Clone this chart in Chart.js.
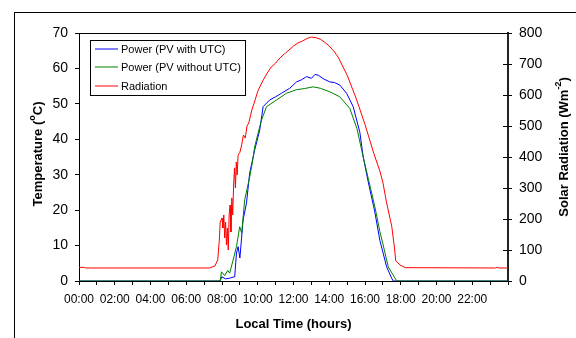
<!DOCTYPE html>
<html>
<head>
<meta charset="utf-8">
<script src="https://cdn.jsdelivr.net/npm/chart.js@4"></script>
<style>
  html, body { margin: 0; padding: 0; background: #fff; }
  canvas { display: block; }
</style>
</head>
<body>
<canvas id="grafico" width="576" height="338"></canvas>
<script>
// Radiation (W/m2, right axis)
const radHours = [0, 0.3, 0.35, 7.3, 7.6, 7.76, 7.85, 7.9, 8.0, 8.05, 8.1, 8.15, 8.2, 8.25, 8.3, 8.35,
  8.4, 8.45, 8.5, 8.55, 8.6, 8.65, 8.7, 8.75, 8.8, 8.85, 8.9, 9.0, 9.1, 9.2, 9.3, 9.4, 9.5, 9.6,
  9.7, 9.8, 10.0, 10.25, 10.5, 10.75, 11.0, 11.25, 11.5, 11.75, 12.0, 12.25, 12.5, 12.75, 13.0,
  13.3, 13.5, 13.75, 14.0, 14.25, 14.5, 15.0, 15.5, 16.0, 16.5, 16.83, 17.0, 17.2, 17.5, 17.65,
  17.72, 17.95, 18.25, 23.3, 23.4, 23.5, 24];
const radValues = [44, 44, 42, 42, 48, 68, 132, 190, 203, 171, 213, 139, 190, 116, 171, 100,
  213, 245, 158, 268, 213, 310, 365, 300, 384, 342, 406, 415, 439, 471, 461, 500, 510, 535,
  558, 574, 612, 642, 668, 690, 703, 720, 733, 745, 758, 768, 774, 782, 787,
  784, 780, 770, 758, 742, 722, 664, 590, 505, 410, 355, 318, 255, 175, 106,
  65, 52, 43, 42, 44, 42, 42];

// Power, PV with UTC (left axis)
const withHours = [0, 7.9, 7.98, 8.2, 8.43, 8.71, 8.81, 8.9, 9.0, 9.18, 9.37, 9.55, 9.83, 10.11,
  10.3, 10.67, 11.0, 11.33, 11.79, 12.17, 12.45, 12.73, 13.0, 13.2, 13.38, 13.7, 14.03, 14.3,
  14.59, 14.97, 15.34, 15.71, 15.9, 16.18, 16.55, 16.83, 17.21, 17.49, 17.58, 24];
const withValues = [0, 0, 1.2, 0.6, 0.8, 1.2, 7.9, 9.7, 6.5, 17.2, 22, 30.5, 37, 42.6,
  49.2, 51.1, 52.0, 53, 54.4, 56.2, 56.8, 57.7, 57.2, 58.3, 58.1, 57.0, 56.2, 56.0,
  55.3, 53, 49.2, 42, 35, 28, 19.5, 11.5, 4, 0.8, 0, 0];

// Power, PV without UTC (left axis)
const withoutHours = [0, 7.9, 7.97, 8.15, 8.32, 8.43, 8.62, 8.81, 8.99, 9.1, 9.27, 9.55, 9.7,
  9.83, 10.02, 10.21, 10.49, 11.05, 11.61, 12.17, 12.6, 13.1, 13.5, 14.03, 14.59, 15.15,
  15.55, 15.9, 16.18, 16.55, 16.83, 17.0, 17.3, 17.68, 17.77, 24];
const withoutValues = [0, 0, 2.6, 1.5, 3, 2.2, 5.9, 9.7, 15.3, 13.5, 22.9, 29.4, 33.5,
  37.9, 41.8, 45.4, 49.2, 51.1, 53, 54, 54.3, 54.8, 54.4, 53.4, 52, 48.7,
  43, 35, 29, 21, 14, 10.5, 4, 0.8, 0, 0];

const xTickStep = 1;
const leftTitle = ['Temperature (', 'o', 'C)'];
const rightTitle = ['Solar Radiation (Wm', '-2', ')'];

function puntos(hours, values) {
  return hours.map((h, i) => ({ x: h, y: values[i] }));
}

function hora(v) {
  return (v < 10 ? '0' : '') + v + ':00';
}

// draws a rotated title reading bottom to top, with a superscript piece
function tituloVertical(ctx, parts, cx, cy) {
  const big = 'bold 13px "Liberation Sans", Arial, sans-serif';
  const small = 'bold 9px "Liberation Sans", Arial, sans-serif';
  ctx.save();
  ctx.font = big;
  const w0 = ctx.measureText(parts[0]).width;
  const w2 = ctx.measureText(parts[2]).width;
  ctx.font = small;
  const w1 = ctx.measureText(parts[1]).width;
  const total = w0 + w1 + w2;
  ctx.translate(cx, cy);
  ctx.rotate(-Math.PI / 2);
  ctx.fillStyle = '#000';
  ctx.textBaseline = 'middle';
  ctx.textAlign = 'left';
  let x = -total / 2;
  ctx.font = big;
  ctx.fillText(parts[0], x, 0);
  x += w0;
  ctx.font = small;
  ctx.fillText(parts[1], x, -5);
  x += w1;
  ctx.font = big;
  ctx.fillText(parts[2], x, 0);
  ctx.restore();
}

const adornos = {
  id: 'adornos',
  beforeDraw(chart) {
    const ctx = chart.ctx;
    ctx.save();
    ctx.fillStyle = '#fff';
    ctx.fillRect(0, 0, chart.width, chart.height);
    ctx.strokeStyle = '#000';
    ctx.lineWidth = 1;
    ctx.strokeRect(14.5, 12.5, 700, 500);
    ctx.restore();
  },
  afterDraw(chart) {
    const ctx = chart.ctx;
    const a = chart.chartArea;
    const y1 = chart.scales.y1;
    ctx.save();
    ctx.strokeStyle = '#000';
    ctx.lineWidth = 1;
    // top edge of plot
    ctx.beginPath();
    ctx.moveTo(a.left, a.top + 0.5);
    ctx.lineTo(a.right, a.top + 0.5);
    ctx.stroke();
    // inner half of right-axis ticks
    ctx.beginPath();
    y1.ticks.forEach(t => {
      const py = Math.round(y1.getPixelForValue(t.value)) + 0.5;
      ctx.moveTo(a.right - 5, py);
      ctx.lineTo(a.right, py);
    });
    ctx.stroke();

    // legend box
    ctx.strokeRect(90.5, 40.5, 155, 55);
    ctx.font = '11px "Liberation Sans", Arial, sans-serif';
    ctx.textBaseline = 'middle';
    ctx.fillStyle = '#000';
    const filas = [49, 67, 86];
    chart.data.datasets.forEach((ds, i) => {
      ctx.strokeStyle = ds.borderColor;
      ctx.beginPath();
      ctx.moveTo(95, filas[i]);
      ctx.lineTo(118, filas[i]);
      ctx.stroke();
      ctx.fillText(ds.label, 121, filas[i] + 1);
    });

    // axis titles
    const cy = (a.top + a.bottom) / 2;
    tituloVertical(ctx, leftTitle, 38, cy - 3);
    tituloVertical(ctx, rightTitle, 564, cy - 10);
    ctx.restore();
  }
};

const ctx = document.getElementById('grafico').getContext('2d');
new Chart(ctx, {
  type: 'line',
  data: {
    datasets: [
      {
        label: 'Power (PV with UTC)',
        data: puntos(withHours, withValues),
        borderColor: '#0000ff',
        yAxisID: 'y',
        order: 1
      },
      {
        label: 'Power (PV without UTC)',
        data: puntos(withoutHours, withoutValues),
        borderColor: '#008000',
        yAxisID: 'y',
        order: 0
      },
      {
        label: 'Radiation',
        data: puntos(radHours, radValues),
        borderColor: '#ff0000',
        yAxisID: 'y1',
        order: 2
      }
    ]
  },
  options: {
    responsive: false,
    animation: false,
    devicePixelRatio: 1,
    layout: { padding: { top: 33, left: 0, right: 0, bottom: 0 } },
    elements: {
      point: { radius: 0 },
      line: { borderWidth: 1, tension: 0, fill: false }
    },
    plugins: {
      legend: { display: false },
      tooltip: { enabled: false }
    },
    scales: {
      x: {
        type: 'linear',
        min: 0,
        max: 24,
        afterFit: s => { s.height = 57; },
        ticks: {
          stepSize: xTickStep,
          autoSkip: false,
          maxRotation: 0,
          padding: 7,
          color: '#000',
          font: { family: '"Liberation Sans", Arial, sans-serif', size: 12 },
          callback: v => (v % 2 === 0 && v < 24) ? hora(v) : ''
        },
        grid: { drawOnChartArea: false, drawTicks: true, tickLength: 4, color: '#000' },
        border: { color: '#000', width: 1 },
        title: {
          display: true,
          text: 'Local Time (hours)',
          color: '#000',
          font: { family: '"Liberation Sans", Arial, sans-serif', size: 13, weight: 'bold' },
          padding: { top: 0, bottom: 6 }
        }
      },
      y: {
        position: 'left',
        min: 0,
        max: 70,
        afterFit: s => { s.width = 79; },
        ticks: {
          stepSize: 10,
          padding: 7,
          color: '#000',
          font: { family: '"Liberation Sans", Arial, sans-serif', size: 14 }
        },
        grid: { drawOnChartArea: false, drawTicks: true, tickLength: 4, color: '#000' },
        border: { color: '#000', width: 1 }
      },
      y1: {
        position: 'right',
        min: 0,
        max: 800,
        afterFit: s => { s.width = 68; },
        ticks: {
          stepSize: 100,
          padding: 7,
          color: '#000',
          font: { family: '"Liberation Sans", Arial, sans-serif', size: 14 }
        },
        grid: { drawOnChartArea: false, drawTicks: true, tickLength: 4, color: '#000' },
        border: { color: '#222', width: 2 }
      }
    }
  },
  plugins: [adornos]
});
</script>
</body>
</html>
